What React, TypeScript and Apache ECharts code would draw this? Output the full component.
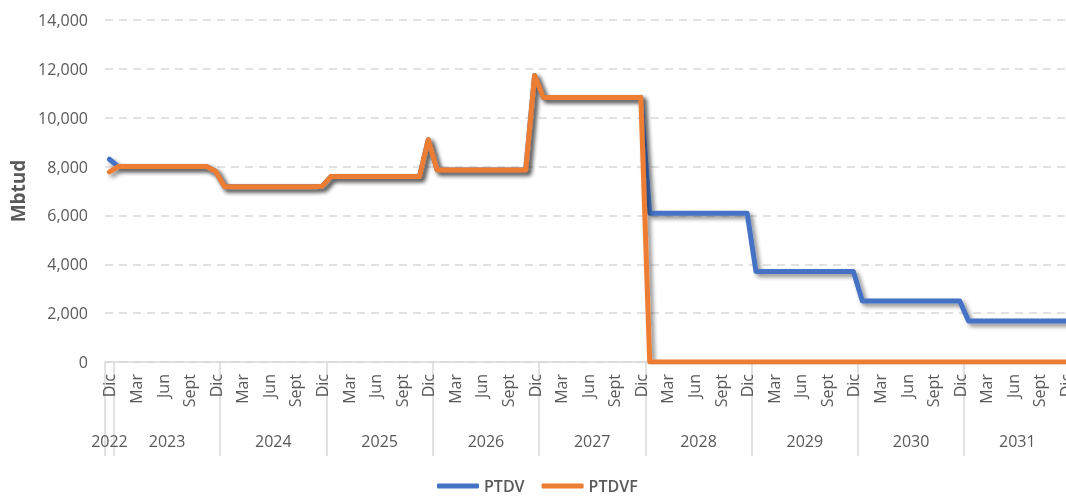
import React, { useEffect, useRef } from "react";
import * as echarts from "echarts";

const monthNames = ["Ene", "Feb", "Mar", "Abr", "May", "Jun", "Jul", "Ago", "Sept", "Oct", "Nov", "Dic"];
const firstYear = 2022;
const fullYears = [2023, 2024, 2025, 2026, 2027, 2028, 2029, 2030, 2031];
const yTicks = [0, 2000, 4000, 6000, 8000, 10000, 12000, 14000];

// Dic 2022, then Ene..Dic for 2023..2031
const ptdv = [
  8300,
  8000, 8000, 8000, 8000, 8000, 8000, 8000, 8000, 8000, 8000, 8000, 7800,
  7170, 7170, 7170, 7170, 7170, 7170, 7170, 7170, 7170, 7170, 7170, 7190,
  7590, 7590, 7590, 7590, 7590, 7590, 7590, 7590, 7590, 7590, 7590, 9100,
  7860, 7860, 7860, 7860, 7860, 7860, 7860, 7860, 7860, 7860, 7860, 11730,
  10830, 10830, 10830, 10830, 10830, 10830, 10830, 10830, 10830, 10830, 10830, 10830,
  6090, 6090, 6090, 6090, 6090, 6090, 6090, 6090, 6090, 6090, 6090, 6090,
  3700, 3700, 3700, 3700, 3700, 3700, 3700, 3700, 3700, 3700, 3700, 3700,
  2500, 2500, 2500, 2500, 2500, 2500, 2500, 2500, 2500, 2500, 2500, 2500,
  1680, 1680, 1680, 1680, 1680, 1680, 1680, 1680, 1680, 1680, 1680, 1680,
];

const ptdvf = [
  7780,
  8000, 8000, 8000, 8000, 8000, 8000, 8000, 8000, 8000, 8000, 8000, 7800,
  7170, 7170, 7170, 7170, 7170, 7170, 7170, 7170, 7170, 7170, 7170, 7190,
  7590, 7590, 7590, 7590, 7590, 7590, 7590, 7590, 7590, 7590, 7590, 9100,
  7860, 7860, 7860, 7860, 7860, 7860, 7860, 7860, 7860, 7860, 7860, 11730,
  10830, 10830, 10830, 10830, 10830, 10830, 10830, 10830, 10830, 10830, 10830, 10830,
  0, 0, 0, 0, 0, 0, 0, 0, 0, 0, 0, 0,
  0, 0, 0, 0, 0, 0, 0, 0, 0, 0, 0, 0,
  0, 0, 0, 0, 0, 0, 0, 0, 0, 0, 0, 0,
  0, 0, 0, 0, 0, 0, 0, 0, 0, 0, 0, 0,
];

const categories: string[] = [`Dic|${firstYear}`];
fullYears.forEach((y) => monthNames.forEach((m) => categories.push(`${m}|${y}`)));

const TEXT = "#595959";
const GRID = "#d9d9d9";
const FONT = "'Open Sans', sans-serif";

export default function App() {
  const ref = useRef<HTMLDivElement>(null);
  useEffect(() => {
    if (!ref.current) return;
    const chart = echarts.init(ref.current, undefined, { renderer: "svg" });
    const shadow = {
      shadowColor: "rgba(0,0,0,0.45)",
      shadowBlur: 4,
      shadowOffsetX: 3,
      shadowOffsetY: 3,
    };
    chart.setOption({
      animation: false,
      textStyle: { fontFamily: FONT },
      grid: { left: 105, right: 0, top: 20, bottom: 134 },
      legend: {
        left: 437,
        top: 478,
        padding: 0,
        itemWidth: 42,
        itemHeight: 5,
        itemGap: 17,
        icon: "roundRect",
        textStyle: { fontSize: 16, color: TEXT, fontFamily: FONT, fontWeight: 600 },
        data: ["PTDV", "PTDVF"],
      },
      xAxis: [
        {
          type: "category",
          data: categories,
          boundaryGap: true,
          axisLine: { show: true, lineStyle: { color: GRID, width: 1.5 } },
          axisTick: { show: false },
          axisLabel: {
            interval: (i: number) => i % 3 === 0,
            rotate: 90,
            margin: 12,
            fontSize: 16,
            color: TEXT,
            fontFamily: FONT,
            formatter: (v: string) => v.split("|")[0],
          },
          splitLine: { show: false },
        },
        {
          type: "category",
          data: categories,
          boundaryGap: true,
          position: "bottom",
          axisLine: { show: false },
          axisTick: {
            show: true,
            length: 94,
            interval: (i: number) => i === 0 || i % 12 === 1,
            lineStyle: { color: GRID, width: 1.5 },
          },
          axisLabel: {
            interval: (i: number) => i === 0 || i % 12 === 6,
            margin: 71,
            fontSize: 16,
            color: TEXT,
            fontFamily: FONT,
            formatter: (v: string, i: number) => {
              const y = v.split("|")[1];
              return i === 0 ? `{a|${y}}` : `{b|${y}}`;
            },
            rich: {
              a: { fontSize: 16, color: TEXT, fontFamily: FONT },
              b: { fontSize: 16, color: TEXT, fontFamily: FONT, padding: [0, 0, 0, 9] },
            },
          },
          splitLine: { show: false },
        },
      ],
      yAxis: {
        type: "value",
        min: yTicks[0],
        max: yTicks[yTicks.length - 1],
        interval: yTicks[1] - yTicks[0],
        name: "Mbtud",
        nameLocation: "middle",
        nameGap: 68,
        nameTextStyle: { fontSize: 19, fontWeight: "bold", color: TEXT, fontFamily: FONT },
        axisLine: { show: false },
        axisTick: { show: false },
        axisLabel: {
          margin: 17,
          fontSize: 16,
          color: TEXT,
          fontFamily: FONT,
          formatter: (v: number) => v.toLocaleString("en-US"),
        },
        splitLine: {
          show: true,
          lineStyle: { color: GRID, width: 1.5, type: [8, 6] },
        },
      },
      series: [
        {
          name: "PTDV",
          type: "line",
          data: ptdv,
          symbol: "none",
          color: "#4472C4",
          lineStyle: { width: 5, color: "#4472C4", cap: "round", join: "round", ...shadow },
          emphasis: { disabled: true },
          silent: true,
        },
        {
          name: "PTDVF",
          type: "line",
          data: ptdvf,
          symbol: "none",
          color: "#ED7D31",
          lineStyle: { width: 5, color: "#ED7D31", cap: "round", join: "round", ...shadow },
          emphasis: { disabled: true },
          silent: true,
        },
      ],
    });
    return () => chart.dispose();
  }, []);
  return (
    <div
      style={{ position: "fixed", left: 0, top: 0, width: 1066, height: 496, overflow: "hidden" }}
    >
      <div ref={ref} style={{ width: 1074, height: 496 }} />
    </div>
  );
}
